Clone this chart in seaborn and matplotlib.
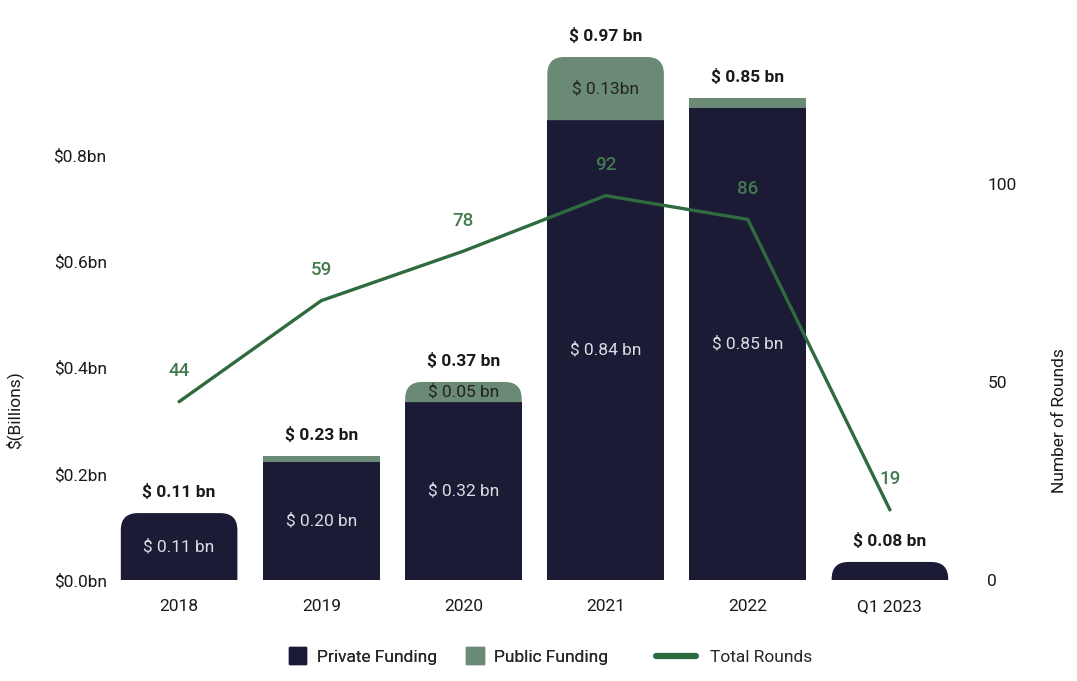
import numpy as np
import matplotlib
matplotlib.use("Agg")
import matplotlib.pyplot as plt
import matplotlib.patches as mpatches
from matplotlib.path import Path
from matplotlib.lines import Line2D
from matplotlib.legend_handler import HandlerPatch
import seaborn as sns

# data
periods = ["2018", "2019", "2020", "2021", "2022", "Q1 2023"]
private_funding = [0.126, 0.222, 0.335, 0.866, 0.889, 0.034]
public_funding = [0.0, 0.011, 0.038, 0.119, 0.019, 0.0]
total_rounds = [45, 70.5, 83, 97, 91, 17.7]

total_labels = ["$ 0.11 bn", "$ 0.23 bn", "$ 0.37 bn", "$ 0.97 bn", "$ 0.85 bn", "$ 0.08 bn"]
private_labels = ["$ 0.11 bn", "$ 0.20 bn", "$ 0.32 bn", "$ 0.84 bn", "$ 0.85 bn", ""]
public_labels = ["", "", "$ 0.05 bn", "$ 0.13bn", "", ""]
rounds_labels = ["44", "59", "78", "92", "86", "19"]

NAVY = "#1b1b36"
SAGE = "#6b8a76"
GREEN = "#2f6b3f"
LABEL_GREEN = "#437a4f"
TEXT = "#1a1a1a"

sns.set_theme(style="white")
plt.rcParams["font.family"] = ["Roboto", "DejaVu Sans"]

fig = plt.figure(figsize=(10.77, 6.81), dpi=100)
ax = fig.add_axes([0.1003, 0.1483, 0.7920, 0.7797])

sns.barplot(x=periods, y=private_funding, color=NAVY, saturation=1, width=0.82,
            ax=ax, linewidth=0)
sns.barplot(x=periods, y=public_funding, color=SAGE, saturation=1, width=0.82,
            ax=ax, linewidth=0, bottom=private_funding)

ax.set_xlim(-0.5, 5.5)
ax.set_ylim(0, 1.0)
ax.set_yticks([0, 0.2, 0.4, 0.6, 0.8])
ax.set_yticklabels([f"${v:.1f}bn" for v in [0, 0.2, 0.4, 0.6, 0.8]])
ax.tick_params(axis="y", length=0, pad=1, labelsize=12.5, colors=TEXT)
ax.tick_params(axis="x", length=0, pad=14, labelsize=12.5, colors=TEXT)
ax.set_xlabel("")
ax.set_ylabel("$(Billions)", fontsize=12.5, color=TEXT)
ax.yaxis.set_label_coords(-0.10, 0.32)
for s in ax.spines.values():
    s.set_visible(False)


def round_top(ax, patch, r_px=17):
    # swap a bar for a path with rounded top corners (radius in pixels)
    trans = ax.transData
    x0, y0 = patch.get_x(), patch.get_y()
    x1, y1 = x0 + patch.get_width(), y0 + patch.get_height()
    (dx0, dy0), (dx1, dy1) = trans.transform([(x0, y0), (x1, y1)])
    r = min(r_px, (dx1 - dx0) / 2, dy1 - dy0)
    verts = [(dx0, dy0), (dx0, dy1 - r), (dx0, dy1), (dx0 + r, dy1),
             (dx1 - r, dy1), (dx1, dy1), (dx1, dy1 - r), (dx1, dy0), (dx0, dy0)]
    codes = [Path.MOVETO, Path.LINETO, Path.CURVE3, Path.CURVE3,
             Path.LINETO, Path.CURVE3, Path.CURVE3, Path.LINETO, Path.CLOSEPOLY]
    data_verts = trans.inverted().transform(verts)
    new = mpatches.PathPatch(Path(data_verts, codes), facecolor=patch.get_facecolor(),
                             edgecolor="none", zorder=patch.get_zorder())
    patch.set_visible(False)
    ax.add_patch(new)


priv_bars = ax.containers[0]
pub_bars = ax.containers[1]
px_per_unit = ax.transData.transform((0, 1))[1] - ax.transData.transform((0, 0))[1]
for i in range(len(periods)):
    top = pub_bars[i] if public_funding[i] > 0 else priv_bars[i]
    if top.get_height() * px_per_unit > 15:
        round_top(ax, top)

for i, p in enumerate(periods):
    total = private_funding[i] + public_funding[i]
    ax.annotate(total_labels[i], (i, total), xytext=(0, 15), textcoords="offset points",
                ha="center", va="center", fontsize=12.5, fontweight="bold", color=TEXT)
    if private_labels[i]:
        ax.text(i, private_funding[i] / 2, private_labels[i], ha="center", va="center",
                fontsize=12.5, color="#dcdce4")
    if public_labels[i]:
        ax.text(i, private_funding[i] + public_funding[i] / 2, public_labels[i],
                ha="center", va="center", fontsize=12.5, color="#222222")

ax2 = ax.twinx()
sns.lineplot(x=np.arange(len(periods)), y=total_rounds, ax=ax2, color=GREEN, linewidth=2.4)
ax2.set_xlim(-0.5, 5.5)
ax2.set_ylim(0, 134)
ax2.set_yticks([0, 50, 100])
ax2.tick_params(axis="y", length=0, pad=19, labelsize=12.5, colors=TEXT)
ax2.set_ylabel("Number of Rounds", fontsize=12.5, color=TEXT)
ax2.yaxis.set_label_coords(1.107, 0.30)
for s in ax2.spines.values():
    s.set_visible(False)
ax2.grid(False)

for i, lab in enumerate(rounds_labels):
    ax2.annotate(lab, (i, total_rounds[i]), xytext=(0, 22), textcoords="offset points",
                 ha="center", va="center", fontsize=13.5, fontweight="medium",
                 color=LABEL_GREEN)


def square_handle(legend, orig_handle, xdescent, ydescent, width, height, fontsize):
    s = height * 1.45
    return mpatches.Rectangle((-xdescent + width - s, -ydescent + (height - s) / 2), s, s)


leg1 = fig.legend(handles=[mpatches.Patch(color=NAVY, label="Private Funding"),
                           mpatches.Patch(color=SAGE, label="Public Funding")],
                  loc="center right", bbox_to_anchor=(0.573, 0.035), ncol=2,
                  frameon=False, fontsize=12.5, handlelength=1.0, handletextpad=0.6,
                  columnspacing=1.7, borderpad=0,
                  handler_map={mpatches.Patch: HandlerPatch(patch_func=square_handle)})
leg2 = fig.legend(handles=[Line2D([0], [0], color=GREEN, lw=4.5, label="Total Rounds")],
                  loc="center left", bbox_to_anchor=(0.601, 0.035), frameon=False,
                  fontsize=12.5, handlelength=2.3, handletextpad=0.8, borderpad=0)
fig.add_artist(leg1)

fig.savefig("out.png", dpi=100)
